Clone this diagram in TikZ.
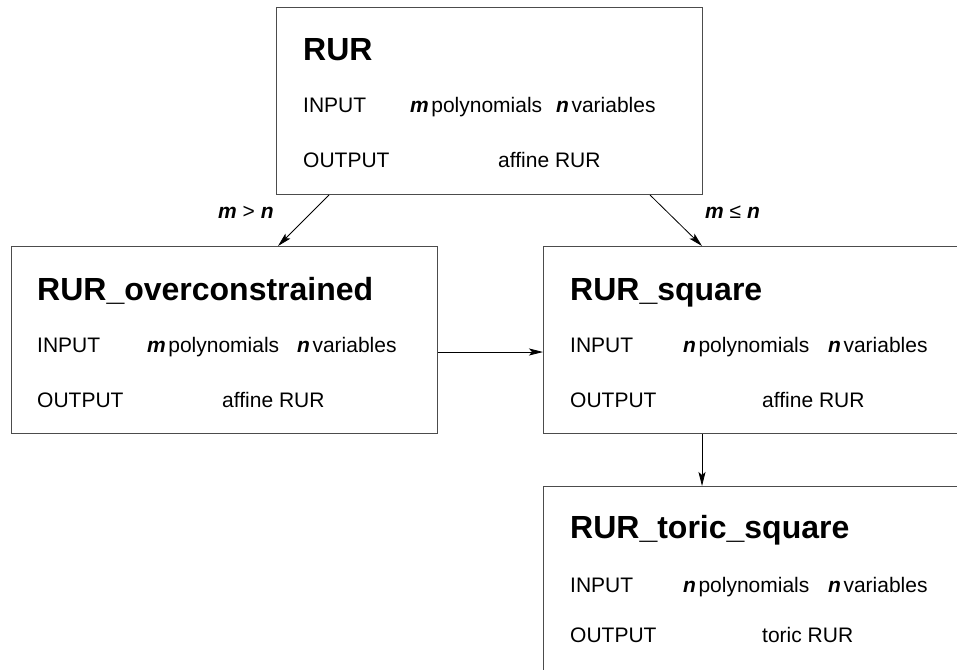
\documentclass[tikz,border=0pt]{standalone}
\usepackage{fontspec}
\setmainfont{Liberation Sans}
\usetikzlibrary{arrows.meta,calc}
\tikzset{
 box/.style={draw=black!70, line width=1pt, anchor=north west, minimum width=426pt, minimum height=187pt, inner sep=0pt},
 ttl/.style={anchor=base west, inner sep=0pt, font=\fontsize{32}{36}\selectfont\bfseries},
 txt/.style={anchor=base west, inner sep=0pt, font=\fontsize{21}{24}\selectfont},
 arr/.style={-{Stealth[length=14pt,width=7pt,inset=3pt]}, line width=0.8pt},
}
\newcommand\vv[1]{\textbf{\textit{#1}}}
\begin{document}
\begin{tikzpicture}[x=1pt,y=-1pt]
\useasboundingbox (0,0) rectangle (957,669);
\clip (0,0) rectangle (957,669);
% RUR
\node[box] (rur) at (276,7) {};
\node[ttl] (rurT) at (303,60) {RUR};
\node[txt] (rurI) at (303,112) {INPUT};
\node[txt] (rurM) at (410,112) {\vv{m}\kern2.5pt polynomials};
\node[txt] (rurN) at (556,112) {\vv{n}\kern2.5pt variables};
\node[txt] (rurO) at (303,167) {OUTPUT};
\node[txt] (rurV) at (498,167) {affine RUR};
% overconstrained
\node[box] (over) at (11,246) {};
\node[ttl] (overT) at (37,300) {RUR\_overconstrained};
\node[txt] (overI) at (37,352) {INPUT};
\node[txt] (overM) at (147,352) {\vv{m}\kern2.5pt polynomials};
\node[txt] (overN) at (297,352) {\vv{n}\kern2.5pt variables};
\node[txt] (overO) at (37,407) {OUTPUT};
\node[txt] (overV) at (222,407) {affine RUR};
% square
\node[box] (sq) at (543,246) {};
\node[ttl] (sqT) at (570,300) {RUR\_square};
\node[txt] (sqI) at (570,352) {INPUT};
\node[txt] (sqM) at (683,352) {\vv{n}\kern2.5pt polynomials};
\node[txt] (sqN) at (828,352) {\vv{n}\kern2.5pt variables};
\node[txt] (sqO) at (570,407) {OUTPUT};
\node[txt] (sqV) at (762,407) {affine RUR};
% toric square
\node[box] (tor) at (543,486) {};
\node[ttl] (torT) at (570,538) {RUR\_toric\_square};
\node[txt] (torI) at (570,592) {INPUT};
\node[txt] (torM) at (683,592) {\vv{n}\kern2.5pt polynomials};
\node[txt] (torN) at (828,592) {\vv{n}\kern2.5pt variables};
\node[txt] (torO) at (570,642) {OUTPUT};
\node[txt] (torV) at (762,642) {toric RUR};
% connectors
\draw[arr] ($(rur.south west)+(53,0)$) -- ($(over.north west)+(267,0)$);
\draw[arr] ($(rur.south west)+(374,0)$) -- ($(sq.north west)+(159,0)$);
\draw[arr] ($(over.north east)+(0,106)$) -- ($(sq.north west)+(0,106)$);
\draw[arr] ($(sq.south west)+(159,0)$) -- ($(tor.north west)+(159,0)$);
% labels
\node[txt] (lab1) at (218,218) {\vv{m} > \vv{n}};
\node[txt] (lab2) at (705,218) {\vv{m} ≤ \vv{n}};
\end{tikzpicture}
\end{document}
